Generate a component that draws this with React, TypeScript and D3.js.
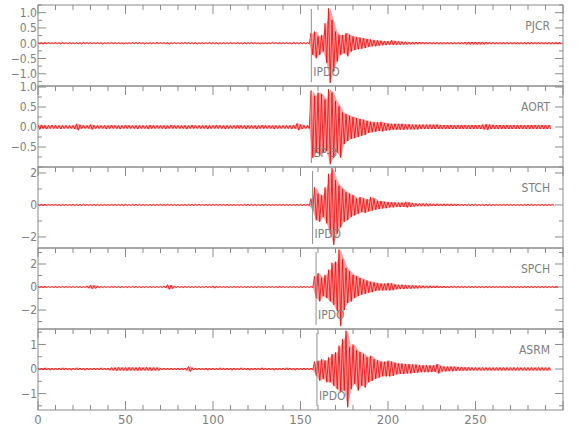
import React from 'react'
import * as d3 from 'd3'

// seismogram envelopes, one max (HI) and one min (LO) per 2 s bin
const BIN = 2

const STATIONS = ['PJCR', 'AORT', 'STCH', 'SPCH', 'ASRM']
const PICK_TIMES = [156.2, 156.2, 156.9, 158.9, 159.4]
const PICK_LABELS = ['IPDO', 'EP-3', 'IPDO', 'IPDO', 'IPDO']
const Y_DOMAINS = [[-1.4, 1.25], [-1.0, 1.025], [-2.69, 2.375], [-3.65, 3.39], [-1.67, 1.63]]
const Y_LABELS = [[-1, -0.5, 0, 0.5, 1], [-0.5, 0, 0.5, 1], [-2, 0, 2], [-2, 0, 2], [-1, 0, 1]]
const Y_MINOR = [0.25, 0.25, 1, 1, 0.5]
const Y_FORMAT = ['.1f', '.1f', 'd', 'd', 'd']
const X_LABELS = [0, 50, 100, 150, 200, 250]

const PJCR_HI = [
  .02, .02, .03, .02, .02, .02, .02, .03, .02, .02,
  .02, .02, .02, .03, .02, .02, .02, .02, .02, .02,
  .02, .03, .02, .02, .02, .02, .02, .02, .03, .02,
  .02, .02, .02, .02, .03, .02, .02, .02, .02, .02,
  .02, .02, .03, .02, .02, .02, .02, .02, .02, .03,
  .02, .02, .02, .02, .02, .03, .02, .02, .02, .02,
  .02, .03, .02, .02, .02, .02, .02, .03, .02, .02,
  .02, .02, .02, .03, .02, .02, .02, .02, .33, .38,
  .22, .27, .65, 1.14, .76, .38, .27, .27, .33, .27,
  .22, .2, .18, .16, .14, .12, .1, .09, .08, .07,
  .06, .1, .07, .06, .05, .05, .04, .04, .04, .04,
  .035, .035, .03, .03, .03, .03, .03, .03, .03, .03,
  .03, .03, .04, .04, .04, .04, .04, .04, .04, .03,
  .03, .03, .03, .03, .03, .03, .03, .03, .03, .03,
  .03, .03, .03, .03, .03, .03, .03, .03, .03, .03,
]
const PJCR_LO = [
  -.02, -.03, -.02, -.02, -.02, -.02, -.03, -.02, -.02, -.02,
  -.02, -.02, -.03, -.02, -.02, -.02, -.02, -.02, -.03, -.02,
  -.02, -.02, -.02, -.02, -.03, -.02, -.02, -.02, -.02, -.02,
  -.03, -.02, -.02, -.02, -.02, -.02, -.02, -.03, -.02, -.02,
  -.02, -.02, -.02, -.02, -.02, -.03, -.02, -.02, -.02, -.02,
  -.02, -.03, -.02, -.02, -.02, -.02, -.02, -.02, -.03, -.02,
  -.02, -.02, -.02, -.03, -.02, -.02, -.02, -.02, -.02, -.02,
  -.02, -.02, -.03, -.02, -.02, -.02, -.02, -.02, -.38, -.49,
  -.38, -.27, -.65, -1.3, -.92, -.6, -.38, -.33, -.43, -.27,
  -.22, -.2, -.18, -.16, -.12, -.1, -.1, -.08, -.07, -.06,
  -.05, -.06, -.05, -.05, -.04, -.04, -.04, -.035, -.035, -.03,
  -.03, -.03, -.03, -.03, -.03, -.03, -.03, -.03, -.03, -.03,
  -.03, -.03, -.04, -.04, -.04, -.04, -.04, -.04, -.03, -.03,
  -.03, -.03, -.03, -.03, -.03, -.03, -.03, -.03, -.03, -.03,
  -.03, -.03, -.03, -.03, -.03, -.03, -.03, -.03, -.03, -.03,
]

const AORT_HI = [
  .06, .05, .04, .04, .05, .04, .04, .04, .04, .04,
  .04, .08, .05, .04, .04, .06, .04, .04, .04, .04,
  .04, .05, .04, .04, .04, .05, .04, .04, .04, .04,
  .04, .04, .05, .04, .04, .04, .04, .04, .05, .04,
  .04, .04, .04, .04, .05, .04, .04, .04, .04, .04,
  .04, .05, .04, .04, .04, .04, .04, .05, .04, .04,
  .04, .04, .04, .04, .05, .04, .04, .04, .04, .04,
  .04, .04, .04, .05, .09, .06, .04, .04, .9, .78,
  .86, .82, .69, .94, .86, .65, .52, .36, .32, .28,
  .25, .22, .2, .18, .15, .13, .12, .12, .13, .1,
  .09, .08, .08, .08, .08, .07, .07, .06, .06, .06,
  .06, .06, .06, .06, .06, .05, .05, .05, .05, .05,
  .05, .05, .05, .05, .05, .05, .05, .06, .07, .06,
  .05, .05, .05, .05, .05, .05, .05, .05, .05, .05,
  .05, .05, .05, .05, .05, .05, .05,
]
const AORT_LO = [
  -.06, -.04, -.05, -.04, -.04, -.04, -.05, -.04, -.04, -.04,
  -.05, -.08, -.04, -.04, -.04, -.06, -.04, -.04, -.04, -.05,
  -.04, -.04, -.04, -.05, -.04, -.04, -.04, -.04, -.05, -.04,
  -.04, -.05, -.04, -.04, -.04, -.04, -.05, -.04, -.04, -.04,
  -.04, -.04, -.05, -.04, -.04, -.04, -.04, -.04, -.05, -.04,
  -.04, -.04, -.04, -.05, -.04, -.04, -.04, -.04, -.04, -.05,
  -.04, -.04, -.05, -.04, -.04, -.04, -.04, -.05, -.04, -.04,
  -.04, -.04, -.05, -.04, -.08, -.05, -.04, -.04, -.77, -.64,
  -.72, -.64, -.6, -.93, -.77, -.64, -.77, -.43, -.35, -.3,
  -.28, -.25, -.22, -.2, -.15, -.13, -.12, -.1, -.11, -.09,
  -.08, -.07, -.07, -.07, -.07, -.06, -.06, -.06, -.06, -.05,
  -.05, -.05, -.05, -.05, -.05, -.05, -.05, -.05, -.05, -.05,
  -.05, -.05, -.05, -.05, -.05, -.05, -.05, -.06, -.07, -.05,
  -.05, -.05, -.05, -.05, -.05, -.05, -.05, -.05, -.05, -.05,
  -.05, -.05, -.05, -.05, -.05, -.05, -.05,
]

const STCH_HI = [
  .04, .04, .05, .04, .04, .04, .03, .04, .04, .04,
  .04, .04, .04, .05, .04, .04, .04, .04, .03, .04,
  .04, .04, .04, .04, .04, .05, .04, .04, .04, .04,
  .04, .03, .04, .04, .04, .04, .04, .05, .04, .04,
  .04, .04, .04, .04, .04, .04, .05, .04, .04, .04,
  .04, .04, .05, .04, .04, .04, .04, .04, .04, .04,
  .04, .04, .04, .04, .04, .05, .04, .04, .04, .04,
  .04, .04, .04, .04, .04, .04, .04, .04, .4, 1.1,
  .7, .6, 1.1, 1.95, 2.3, 1.55, 1.2, 1.0, .8, .7,
  .6, .4, .5, .4, .35, .5, .4, .25, .25, .2,
  .18, .18, .15, .15, .15, .2, .15, .12, .1, .1,
  .1, .1, .08, .08, .08, .07, .07, .07, .07, .07,
  .06, .06, .05, .05, .05, .05, .05, .05, .05, .05,
  .04, .04, .04, .04, .04, .04, .04, .04, .04, .04,
  .04, .04, .04, .04, .04, .04, .04, .04,
]
const STCH_LO = [
  -.04, -.04, -.04, -.03, -.04, -.04, -.05, -.04, -.04, -.04,
  -.04, -.05, -.04, -.04, -.04, -.04, -.04, -.04, -.04, -.04,
  -.04, -.04, -.04, -.04, -.05, -.04, -.04, -.04, -.04, -.04,
  -.04, -.04, -.04, -.04, -.04, -.04, -.05, -.04, -.04, -.04,
  -.05, -.04, -.04, -.04, -.04, -.04, -.04, -.04, -.04, -.04,
  -.04, -.04, -.04, -.04, -.05, -.04, -.04, -.04, -.04, -.04,
  -.04, -.04, -.05, -.04, -.04, -.04, -.04, -.04, -.04, -.04,
  -.04, -.04, -.04, -.04, -.04, -.05, -.04, -.04, -.35, -.95,
  -1.05, -.75, -1.15, -1.8, -2.5, -1.8, -1.4, -1.05, -.95, -.75,
  -.65, -.55, -.45, -.5, -.4, -.35, -.3, -.25, -.22, -.2,
  -.15, -.15, -.12, -.12, -.12, -.15, -.12, -.1, -.08, -.08,
  -.08, -.08, -.07, -.07, -.06, -.06, -.06, -.06, -.06, -.06,
  -.05, -.05, -.05, -.05, -.05, -.05, -.05, -.05, -.05, -.05,
  -.04, -.04, -.04, -.04, -.04, -.04, -.04, -.04, -.04, -.04,
  -.04, -.04, -.04, -.04, -.04, -.04, -.04, -.04,
]

const SPCH_HI = [
  .05, .05, .06, .05, .05, .05, .05, .06, .05, .05,
  .05, .05, .05, .05, .1, .15, .12, .08, .05, .05,
  .05, .06, .05, .05, .05, .05, .05, .06, .05, .05,
  .05, .05, .05, .05, .05, .05, .08, .2, .15, .05,
  .05, .05, .06, .05, .05, .05, .05, .05, .06, .05,
  .1, .06, .05, .05, .05, .05, .06, .05, .05, .05,
  .05, .05, .05, .06, .05, .05, .05, .05, .05, .06,
  .05, .05, .05, .05, .05, .06, .05, .05, .05, .93,
  1.2, .8, 1.05, 1.5, 2.1, 2.2, 3.25, 2.4, 1.65, 1.35,
  1.05, .93, .78, .65, .55, .45, .4, .35, .3, .3,
  .35, .3, .22, .2, .2, .18, .15, .15, .12, .12,
  .1, .1, .1, .1, .1, .09, .09, .08, .08, .08,
  .07, .07, .06, .06, .06, .06, .06, .06, .06, .06,
  .06, .06, .06, .06, .06, .06, .06, .06, .06, .06,
  .06, .06, .06, .06, .06, .06, .06, .06, .06,
]
const SPCH_LO = [
  -.05, -.06, -.05, -.05, -.05, -.06, -.05, -.05, -.05, -.05,
  -.05, -.05, -.06, -.05, -.1, -.15, -.12, -.07, -.05, -.05,
  -.05, -.05, -.05, -.06, -.05, -.05, -.05, -.05, -.05, -.06,
  -.05, -.05, -.05, -.05, -.05, -.05, -.08, -.2, -.14, -.05,
  -.05, -.06, -.05, -.05, -.05, -.05, -.06, -.05, -.05, -.05,
  -.1, -.05, -.05, -.05, -.06, -.05, -.05, -.05, -.05, -.05,
  -.05, -.05, -.06, -.05, -.05, -.05, -.05, -.05, -.06, -.05,
  -.05, -.05, -.05, -.05, -.06, -.05, -.05, -.05, -.05, -.95,
  -1.25, -.8, -.95, -1.25, -1.55, -2.1, -3.4, -2.0, -1.4, -1.25,
  -.95, -.8, -.67, -.6, -.5, -.45, -.35, -.3, -.3, -.28,
  -.3, -.28, -.2, -.18, -.18, -.15, -.15, -.12, -.12, -.1,
  -.1, -.1, -.09, -.09, -.08, -.08, -.08, -.08, -.07, -.07,
  -.06, -.06, -.06, -.06, -.06, -.06, -.06, -.06, -.06, -.06,
  -.06, -.06, -.06, -.06, -.06, -.06, -.06, -.06, -.06, -.06,
  -.06, -.06, -.06, -.06, -.06, -.06, -.06, -.06, -.06,
]

const ASRM_HI = [
  .04, .04, .05, .04, .04, .04, .04, .05, .04, .04,
  .04, .05, .04, .04, .04, .04, .04, .04, .05, .04,
  .04, .06, .06, .07, .06, .06, .07, .06, .06, .07,
  .06, .07, .06, .06, .06, .04, .04, .04, .04, .04,
  .04, .04, .04, .1, .05, .04, .04, .04, .04, .04,
  .04, .04, .05, .04, .04, .04, .04, .04, .05, .04,
  .04, .04, .04, .04, .05, .04, .04, .04, .04, .04,
  .04, .05, .04, .04, .04, .04, .04, .04, .04, .3,
  .34, .4, .34, .48, .61, .68, .95, 1.22, 1.56, .88,
  1.0, .75, .68, .61, .48, .54, .4, .35, .3, .3,
  .34, .3, .25, .22, .22, .2, .2, .18, .18, .15,
  .15, .15, .15, .15, .2, .12, .1, .1, .1, .1,
  .08, .08, .07, .07, .06, .06, .06, .06, .06, .06,
  .06, .06, .06, .06, .06, .06, .06, .06, .06, .06,
  .06, .06, .06, .06, .06, .06, .06,
]
const ASRM_LO = [
  -.04, -.04, -.04, -.05, -.04, -.04, -.04, -.04, -.04, -.05,
  -.04, -.04, -.04, -.05, -.04, -.04, -.04, -.04, -.04, -.04,
  -.05, -.06, -.07, -.06, -.06, -.07, -.06, -.06, -.07, -.06,
  -.06, -.06, -.07, -.06, -.06, -.04, -.04, -.04, -.04, -.04,
  -.04, -.04, -.05, -.1, -.04, -.04, -.04, -.04, -.05, -.04,
  -.04, -.04, -.04, -.04, -.04, -.05, -.04, -.04, -.04, -.04,
  -.05, -.04, -.04, -.04, -.04, -.04, -.04, -.05, -.04, -.04,
  -.04, -.04, -.04, -.05, -.04, -.04, -.04, -.04, -.04, -.27,
  -.48, -.4, -.54, -.54, -.68, -.82, -.95, -.88, -1.56, -.82,
  -.6, -.88, -.68, -.75, -.54, -.48, -.4, -.35, -.3, -.3,
  -.3, -.28, -.22, -.2, -.2, -.18, -.18, -.16, -.15, -.13,
  -.13, -.13, -.12, -.12, -.18, -.1, -.1, -.09, -.09, -.08,
  -.07, -.07, -.07, -.06, -.06, -.06, -.06, -.06, -.06, -.06,
  -.06, -.06, -.06, -.06, -.06, -.06, -.06, -.06, -.06, -.06,
  -.06, -.06, -.06, -.06, -.06, -.06, -.06,
]

const TRACE_HI = [PJCR_HI, AORT_HI, STCH_HI, SPCH_HI, ASRM_HI]
const TRACE_LO = [PJCR_LO, AORT_LO, STCH_LO, SPCH_LO, ASRM_LO]

const FRAME = '#8c8c8c'
const TEXT = '#808080'
const FONT = "'Liberation Sans Narrow', 'DejaVu Sans Condensed', 'Liberation Sans', sans-serif"

export default function App() {
  const width = 580
  const height = 440
  const left = 38
  const right = 563
  const top = 5
  const panelH = 81

  const x = d3.scaleLinear().domain([0, 300]).range([left, right])
  const xMinor = d3.range(0, 301, 10)

  const panels = STATIONS.map((name, i) => {
    const y0 = top + i * panelH
    const y = d3.scaleLinear().domain(Y_DOMAINS[i]).range([y0 + panelH, y0])
    const [lo, hi] = Y_DOMAINS[i]
    const step = Y_MINOR[i]
    const minor = d3.range(Math.ceil(lo / step) * step, hi + 1e-9, step)
    const fmt = d3.format(Y_FORMAT[i])

    const his = TRACE_HI[i]
    const los = TRACE_LO[i]
    const bins = his.map((v, k) => ({ t: k * BIN, hi: v, lo: los[k] }))

    // zig-zag between bin maximum and minimum
    const pts: [number, number][] = []
    bins.forEach(b => {
      pts.push([b.t, b.hi])
      pts.push([b.t + BIN / 2, b.lo])
    })
    const line = d3.line<[number, number]>().x(d => x(d[0])).y(d => y(d[1]))
    // filled envelope underneath
    const area = d3.area<{ t: number; hi: number; lo: number }>()
      .x(d => x(d.t + BIN / 2))
      .y0(d => y(d.lo))
      .y1(d => y(d.hi))

    const isMajor = (v: number) => Y_LABELS[i].some(l => Math.abs(l - v) < 1e-6) || Math.abs(v) < 1e-6

    return (
      <g key={name}>
        <defs>
          <clipPath id={`clip${i}`}>
            <rect x={left} y={y0} width={right - left} height={panelH} />
          </clipPath>
        </defs>
        <rect x={left} y={y0} width={right - left} height={panelH} fill="none" stroke={FRAME} strokeWidth={1} />
        {xMinor.map(t => (
          <line key={'xt' + t} x1={x(t)} x2={x(t)} y1={y0} y2={y0 + (t % 50 === 0 ? 9 : 5)} stroke={FRAME} />
        ))}
        {minor.map(v => {
          const len = isMajor(v) ? 8 : 4
          return (
            <g key={'yt' + v}>
              <line x1={left} x2={left + len} y1={y(v)} y2={y(v)} stroke={FRAME} />
              <line x1={right - len} x2={right} y1={y(v)} y2={y(v)} stroke={FRAME} />
            </g>
          )
        })}
        {Y_LABELS[i].map(v => (
          <text key={'yl' + v} x={left - 1} y={y(v)} dy="0.36em" textAnchor="end" fontSize={12}
            fontFamily={FONT} fill={TEXT}>{fmt(v)}</text>
        ))}
        <g clipPath={`url(#clip${i})`}>
          <path d={area(bins) || ''} fill="#ff3030" fillOpacity={0.45} stroke="none" />
          <path d={line(pts) || ''} fill="none" stroke="#ff0000" strokeWidth={0.8} />
        </g>
        <line x1={x(PICK_TIMES[i])} x2={x(PICK_TIMES[i])} y1={y0 + 4} y2={y0 + panelH - 4} stroke="#909090" />
        <text x={x(PICK_TIMES[i]) + 2} y={y0 + panelH - 10} fontSize={12} fontFamily={FONT} fill={TEXT}>
          {PICK_LABELS[i]}
        </text>
        <text x={550} y={y0 + 25} textAnchor="end" fontSize={12} fontFamily={FONT} fill={TEXT}>{name}</text>
      </g>
    )
  })

  const bottom = top + STATIONS.length * panelH

  return (
    <svg width={width} height={height} style={{ position: 'absolute', left: 0, top: 0, background: '#fff' }}>
      {panels}
      {xMinor.map(t => (
        <line key={'xb' + t} x1={x(t)} x2={x(t)} y1={bottom} y2={bottom - (t % 50 === 0 ? 9 : 5)} stroke={FRAME} />
      ))}
      {X_LABELS.map(t => (
        <text key={'xl' + t} x={x(t)} y={bottom + 14} textAnchor="middle" fontSize={13}
          fontFamily={FONT} fill={TEXT}>{t}</text>
      ))}
    </svg>
  )
}
